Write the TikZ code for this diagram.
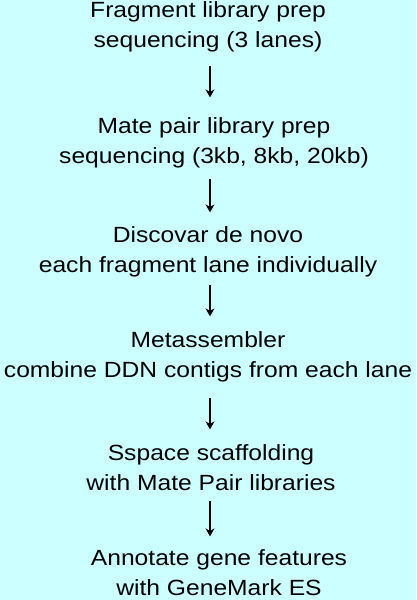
\documentclass[tikz,border=0pt]{standalone}
\usepackage{fontspec}
\setmainfont{Liberation Sans}[FakeStretch=1.12]
\usetikzlibrary{arrows.meta,positioning}
\definecolor{Sky}{HTML}{CCFFFF}

\begin{document}
\begin{tikzpicture}[
  x=1pt, y=-1pt,
  stage/.style={align=center, inner sep=0pt, anchor=base, font=\fontsize{22}{29.5}\selectfont},
  arrow/.style={-{Stealth[length=8pt,width=9pt]}, line width=1.4pt}
]
  \fill[Sky] (0,0) rectangle (416,600);
  \useasboundingbox (0,0) rectangle (416,600);
  \coordinate (spine) at (210,0);
  % base anchor sits on the second line
  \node[stage] (frag) at (208,47) {Fragment library prep\\sequencing (3 lanes)};
  \node[stage] (mate) at (214,163) {Mate pair library prep\\sequencing (3kb, 8kb, 20kb)};
  \node[stage] (disco) at (208,272) {Discovar de novo\\each fragment lane individually};
  \node[stage] (meta) at (208,377) {Metassembler\\combine DDN contigs from each lane};
  \node[stage] (sspace) at (211,490) {Sspace scaffolding\\with Mate Pair libraries};
  \node[stage] (annot) at (219,595) {Annotate gene features\\with GeneMark ES};
  \draw[arrow, shorten <=14pt, shorten >=20pt] (frag.south -| spine) -- (mate.north -| spine);
  \draw[arrow, shorten <=11pt, shorten >=14pt] (mate.south -| spine) -- (disco.north -| spine);
  \draw[arrow, shorten <=8pt, shorten >=15pt] (disco.south -| spine) -- (meta.north -| spine);
  \draw[arrow, shorten <=16pt, shorten >=15pt] (meta.south -| spine) -- (sspace.north -| spine);
  \draw[arrow, shorten <=11pt, shorten >=13pt] (sspace.south -| spine) -- (annot.north -| spine);
\end{tikzpicture}
\end{document}
